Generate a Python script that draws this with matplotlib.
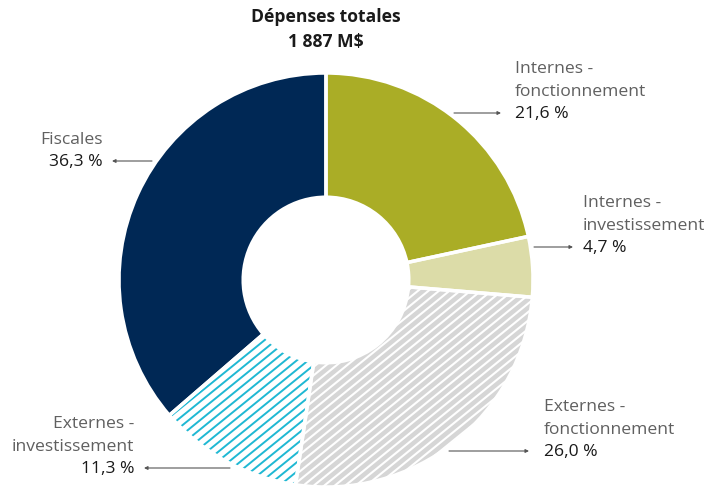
import matplotlib
matplotlib.use("Agg")
import matplotlib.pyplot as plt
import numpy as np
from matplotlib.collections import LineCollection

plt.rcParams["font.family"] = ["Open Sans", "DejaVu Sans"]

# dépenses par catégorie (%)
categories = ["Internes -\nfonctionnement", "Internes -\ninvestissement",
              "Externes -\nfonctionnement", "Externes -\ninvestissement", "Fiscales"]
shares = [21.6, 4.7, 26.0, 11.3, 36.3]
face_colors = ["#aaad26", "#dcdca8", "#d6d6d6", "white", "#002855"]
stripe_colors = [None, None, "white", "#1fb8d3", None]
title = "Dépenses totales\n1 887 M$"

W, H = 713, 489
fig = plt.figure(figsize=(W / 100, H / 100), dpi=100)
ax = fig.add_axes([0, 0, 1, 1])


def py(y):
    return H - y


center = (326, py(281))
radius = 207
ring = radius * 0.6

wedges, _ = ax.pie(shares, colors=face_colors, startangle=90, counterclock=False,
                   center=center, radius=radius, frame=True,
                   wedgeprops=dict(width=ring, linewidth=0))


def stripes(wedge, color, gap, lw, angle=39):
    # parallel diagonal lines clipped to the wedge
    t = np.deg2rad(angle)
    d = np.array([np.cos(t), np.sin(t)])
    n = np.array([-np.sin(t), np.cos(t)])
    c = np.array(center)
    L = radius * 1.5
    segs = [[c + k * n - L * d, c + k * n + L * d]
            for k in np.arange(-L, L, gap)]
    lc = LineCollection(segs, colors=color, linewidths=lw, zorder=wedge.get_zorder() + 0.1)
    ax.add_collection(lc)
    lc.set_clip_path(wedge)


for w, sc in zip(wedges, stripe_colors):
    if sc == "white":
        stripes(w, sc, 6.6, 1.5)
    elif sc:
        stripes(w, sc, 7.2, 1.4)

# white separators between segments
ax.pie(shares, colors=["none"] * len(shares), startangle=90, counterclock=False,
       center=center, radius=radius, frame=True,
       wedgeprops=dict(width=ring, linewidth=2.5, edgecolor="white", fill=False, zorder=5))
ax.set_xlim(0, W)
ax.set_ylim(0, H)
ax.set_aspect("equal")
ax.axis("off")

ax.text(326, py(30), title, ha="center", va="center", fontsize=12.6,
        fontweight="bold", color="#1a1a1a", linespacing=1.5)

# label anchors: (text x, percent-line y, alignment, arrow start x, arrow end x)
label_pos = [
    (515, 114, "left", 454, 501),
    (583, 248, "left", 534, 573),
    (544, 452, "left", 449, 529),
    (134, 469, "right", 230, 144),
    (103, 162, "right", 152, 112),
]
step = 23
for name, val, (tx, ty, ha, ax0, ax1) in zip(categories, shares, label_pos):
    lines = name.split("\n")
    for i, line in enumerate(lines):
        ax.text(tx, py(ty - step * (len(lines) - i) + 1), line, ha=ha, va="center",
                fontsize=12.6, color="#606060")
    ax.text(tx, py(ty), f"{val:.1f} %".replace(".", ","), ha=ha, va="center",
            fontsize=12.6, color="#1a1a1a")
    ax.annotate("", xy=(ax1, py(ty)), xytext=(ax0, py(ty)),
                arrowprops=dict(arrowstyle="-|>", color="#555555", lw=0.8,
                                mutation_scale=5, shrinkA=0, shrinkB=0))

fig.savefig("out.png", dpi=100)
